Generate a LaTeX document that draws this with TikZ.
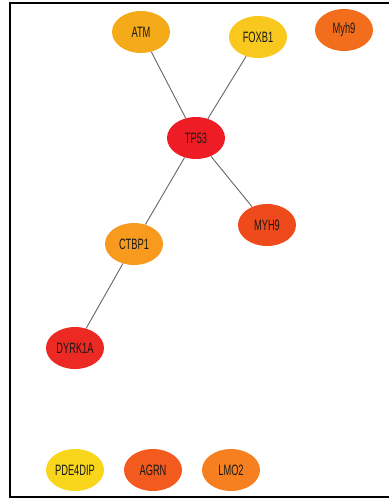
\documentclass[tikz,border=0pt]{standalone}
\usepackage{fontspec}
\setmainfont{Liberation Sans}[FakeStretch=0.62]
\usetikzlibrary{shapes.geometric}
\definecolor{cATM}{HTML}{F5AA1A}
\definecolor{cFOXB}{HTML}{F8C81E}
\definecolor{cMyh}{HTML}{F36E1C}
\definecolor{cTP}{HTML}{EE1C24}
\definecolor{cCTBP}{HTML}{F79A1E}
\definecolor{cMYH}{HTML}{EF4A1C}
\definecolor{cDYRK}{HTML}{EC2922}
\definecolor{cPDE}{HTML}{F8D61B}
\definecolor{cAGRN}{HTML}{F25A1E}
\definecolor{cLMO}{HTML}{F6801F}
\tikzset{
  gene/.style={ellipse, draw=none, fill=#1, minimum width=58pt, minimum height=42pt,
    inner sep=0pt, font=\fontsize{15}{16}\selectfont, text=black!90},
  link/.style={draw=black!60, line width=0.9pt},
  frame/.style={draw=black, line width=1.6pt}
}
\begin{document}
\begin{tikzpicture}[x=1pt, y=-1pt]
  \useasboundingbox (0,0) rectangle (389,503);
  % open frame: top, left and bottom sides
  \draw[frame] (389,3) -- (10,3) -- (10,497) -- (389,497);

  % genes
  \node[gene=cATM]  (atm)  at (141,32)  {ATM};
  \node[gene=cFOXB] (foxb) at (258,37)  {FOXB1};
  \node[gene=cMyh]  (myh)  at (344,30)  {Myh9};
  \node[gene=cTP]   (tp)   at (196,138) {TP53};
  \node[gene=cCTBP] (ctbp) at (134,244) {CTBP1};
  \node[gene=cMYH]  (MYH)  at (267,225) {MYH9};
  \node[gene=cDYRK] (dyrk) at (75,348)  {DYRK1A};
  \node[gene=cPDE]  (pde)  at (75,470)  {PDE4DIP};
  \node[gene=cAGRN] (agrn) at (153,470) {AGRN};
  \node[gene=cLMO]  (lmo)  at (231,470) {LMO2};

  % interactions
  \draw[link] (atm) -- (tp);
  \draw[link] (foxb) -- (tp);
  \draw[link] (tp) -- (ctbp);
  \draw[link] (tp) -- (MYH);
  \draw[link] (ctbp) -- (dyrk);
\end{tikzpicture}
\end{document}
